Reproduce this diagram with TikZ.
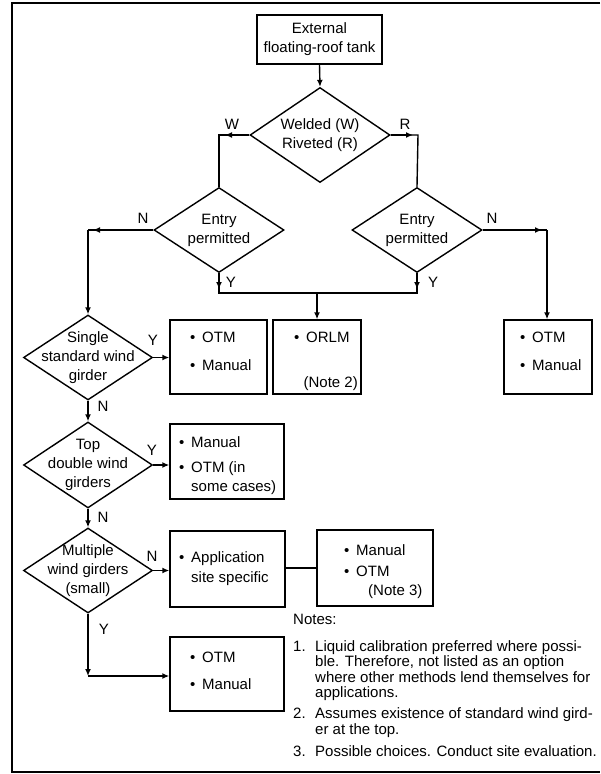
\documentclass[tikz,border=0pt]{standalone}
\usepackage{fontspec}
\setmainfont{Liberation Sans}
\usetikzlibrary{shapes.geometric,arrows.meta}
\newcommand\bulmark{\makebox[12pt][l]{\textbullet}}
\begin{document}
\begin{tikzpicture}[x=1pt,y=-1pt,
  every node/.style={font=\fontsize{15}{19}\selectfont, inner sep=0pt},
  ln/.style={line width=1.4pt},
  arr/.style={ln,-{Latex[length=7pt,width=6pt]}},
  box/.style={draw,ln,rectangle,inner sep=0pt},
  dia/.style={draw,ln,diamond,inner sep=0pt},
  dtxt/.style={align=center,font=\fontsize{15}{19}\selectfont},
  frame/.style={line width=1.8pt}]
\useasboundingbox (0,0) rectangle (600,774);
% frame
\draw[frame] (600,3) -- (12,3) -- (12,772) -- (600,772);

% nodes
\node[box,minimum width=125pt,minimum height=49pt,align=center] (top) at (319.5,39.5) {External\\floating-roof tank};
\node[dia,minimum width=140pt,minimum height=95pt,label={[dtxt]center:Welded (W)\\Riveted (R)}] (d1) at (320,135) {};
\node[dia,minimum width=130pt,minimum height=85pt,label={[dtxt]center:Entry\\permitted}] (e1) at (219,230) {};
\node[dia,minimum width=130pt,minimum height=85pt,label={[dtxt]center:Entry\\permitted}] (e2) at (417,230) {};
\node[dia,minimum width=129pt,minimum height=85pt,label={[dtxt]center:Single\\standard wind\\girder}] (s1) at (88,357.5) {};
\node[dia,minimum width=129pt,minimum height=86pt,label={[dtxt]center:Top\\double wind\\girders}] (s2) at (88,465) {};
\node[dia,minimum width=129pt,minimum height=85pt,label={[dtxt]center:Multiple\\wind girders\\(small)}] (s3) at (88,570.5) {};

\node[box,minimum width=97pt,minimum height=74pt] (b1) at (218.5,357) {};
\node[box,minimum width=88pt,minimum height=74pt] (b2) at (317,357) {};
\node[box,minimum width=88pt,minimum height=74pt] (b3) at (548,357) {};
\node[box,minimum width=114pt,minimum height=75pt] (b4) at (227,461.5) {};
\node[box,minimum width=115pt,minimum height=76pt] (b5) at (227.5,569) {};
\node[box,minimum width=116pt,minimum height=76pt] (b6) at (375,568) {};
\node[box,minimum width=114pt,minimum height=74pt] (b7) at (227,674) {};

% box texts
\node[anchor=base west] (b1a) at (190,342) {\bulmark OTM};
\node[anchor=base west] (b1b) at (190,370) {\bulmark Manual};
\node[anchor=base west] (b2a) at (294,342) {\bulmark ORLM};
\node[anchor=base east] (b2b) at (358,387) {(Note 2)};
\node[anchor=base west] (b3a) at (520,342) {\bulmark OTM};
\node[anchor=base west] (b3b) at (520,370) {\bulmark Manual};
\node[anchor=base west] (b4a) at (179,447) {\bulmark Manual};
\node[anchor=base west] (b4b) at (179,472) {\bulmark OTM (in};
\node[anchor=base west] (b4c) at (191,491) {some cases)};
\node[anchor=base west] (b5a) at (179,562) {\bulmark Application};
\node[anchor=base west] (b5b) at (191,582) {site specific};
\node[anchor=base west] (b6a) at (344,555) {\bulmark Manual};
\node[anchor=base west] (b6b) at (344,576) {\bulmark OTM};
\node[anchor=base west] (b6c) at (368,595) {(Note 3)};
\node[anchor=base west] (b7a) at (190,662) {\bulmark OTM};
\node[anchor=base west] (b7b) at (190,689) {\bulmark Manual};

% branch labels
\node (lW) at (232,124) {W};
\node (lR) at (405,124) {R};
\node (lN1) at (143,218) {N};
\node (lN2) at (492,218) {N};
\node (lY1) at (231,282) {Y};
\node (lY2) at (433,282) {Y};
\node (lY3) at (153,340) {Y};
\node (lN3) at (103,406) {N};
\node (lY4) at (152,450) {Y};
\node (lN4) at (103,517) {N};
\node (lN5) at (152,556) {N};
\node (lY5) at (104,629) {Y};

% coordinates
\coordinate (wc) at (219,135);
\coordinate (wa) at (225,135);
\coordinate (rc) at (418,135);
\coordinate (ra) at (413,135);
\coordinate (nc1) at (88,230);
\coordinate (na1) at (93,230);
\coordinate (nc2) at (547,230);
\coordinate (na2) at (542,230);
\coordinate (yl) at (219,293);
\coordinate (yr) at (417,293);
\coordinate (ya1) at (219,289);
\coordinate (ya2) at (417,289);
\coordinate (ym) at (317,293);
\coordinate (yc) at (88,676);

% connectors
\draw[arr] (top.south) -- (d1.north);
\draw[ln] (d1.west) -- (wc) -- (e1.north);
\draw[arr] (d1.west) -- (wa);
\draw[ln] (d1.east) -- (rc) -- (e2.north);
\draw[arr] (d1.east) -- (ra);
\draw[ln] (e1.west) -- (nc1);
\draw[arr] (e1.west) -- (na1);
\draw[arr] (nc1) -- (s1.north);
\draw[ln] (e2.east) -- (nc2);
\draw[arr] (e2.east) -- (na2);
\draw[arr] (nc2) -- (nc2 |- b3.north);
\draw[ln] (e1.south) -- (yl) -- (yr) -- (e2.south);
\draw[arr] (e1.south) -- (ya1);
\draw[arr] (e2.south) -- (ya2);
\draw[arr] (ym) -- (b2.north);
\draw[arr] (s1.east) -- (s1.east -| b1.west);
\draw[arr] (s1.south) -- (s2.north);
\draw[arr] (s2.east) -- (s2.east -| b4.west);
\draw[arr] (s2.south) -- (s3.north);
\draw[arr] (s3.east) -- (s3.east -| b5.west);
\draw[ln] (b5.east |- b6.west) -- (b6.west);
\draw[arr] (s3.south) -- (yc);
\draw[arr] (yc) -- (yc -| b7.west);

% notes
\node[anchor=base west] (notes) at (293,624) {Notes:};
\node[anchor=base west] (n1) at (293,651) {1.};
\node[anchor=base west] (n1a) at (315,651) {Liquid calibration preferred where possi-};
\node[anchor=base west] (n1b) at (315,666) {ble. Therefore, not listed as an option};
\node[anchor=base west] (n1c) at (315,682) {where other methods lend themselves for};
\node[anchor=base west] (n1d) at (315,697) {applications.};
\node[anchor=base west] (n2) at (293,718) {2.};
\node[anchor=base west] (n2a) at (315,718) {Assumes existence of standard wind gird-};
\node[anchor=base west] (n2b) at (315,734) {er at the top.};
\node[anchor=base west] (n3) at (293,756) {3.};
\node[anchor=base west] (n3a) at (315,756) {Possible choices. Conduct site evaluation.};
\end{tikzpicture}
\end{document}
